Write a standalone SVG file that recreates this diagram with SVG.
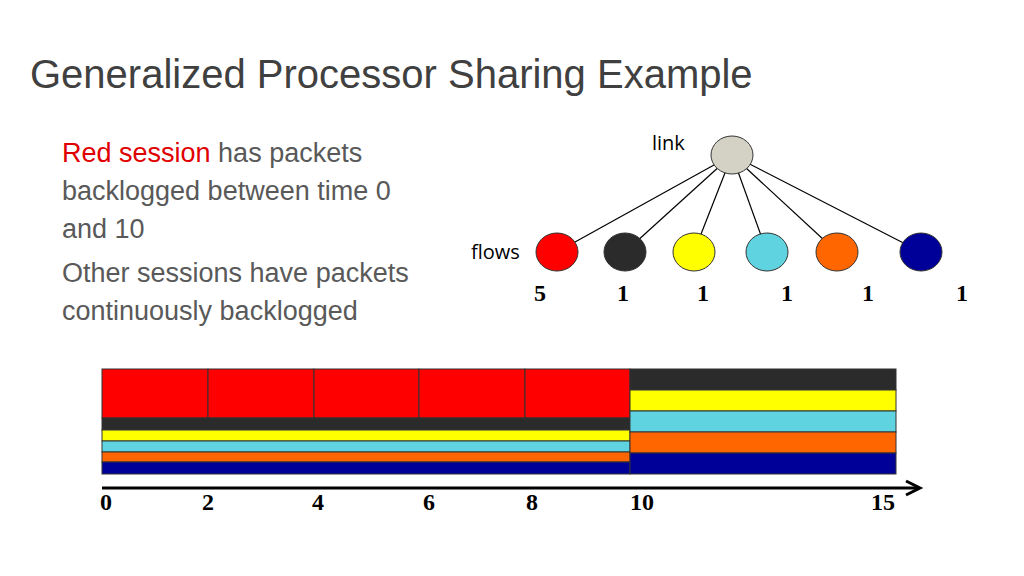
<svg xmlns="http://www.w3.org/2000/svg" width="1024" height="576" viewBox="0 0 1024 576">
<style>
.t{font-family:"Liberation Sans",Arial,sans-serif;fill:#595959;font-size:27px}
.n{font-family:"Liberation Serif","Times New Roman",serif;font-weight:bold;font-size:24px;fill:#000}
.c{font-family:"Open Sans","Noto Sans",sans-serif;font-size:20px;fill:#000}
.b{stroke:#333;stroke-width:1}
line.e{stroke:#000;stroke-width:1.2}
</style>
<rect width="1024" height="576" fill="#fff"/>
<text x="30" y="88" style="font-family:'Liberation Sans',Arial,sans-serif;font-size:40px;fill:#404040">Generalized Processor Sharing Example</text>
<text class="t" x="62" y="162"><tspan fill="#e00000">Red session</tspan> has packets</text>
<text class="t" x="62" y="200">backlogged between time 0</text>
<text class="t" x="62" y="238">and 10</text>
<text class="t" x="62" y="282">Other sessions have packets</text>
<text class="t" x="62" y="320">continuously backlogged</text>
<g id="connectors">
<line class="e" x1="732" y1="155" x2="557" y2="252"/>
<line class="e" x1="732" y1="155" x2="625" y2="252"/>
<line class="e" x1="732" y1="155" x2="694" y2="252"/>
<line class="e" x1="732" y1="155" x2="767" y2="252"/>
<line class="e" x1="732" y1="155" x2="837" y2="252"/>
<line class="e" x1="732" y1="155" x2="921" y2="252"/>
</g>
<g id="link"><ellipse cx="732" cy="155" rx="21" ry="19" fill="#d4d2c4" stroke="#333"/><text class="c" x="652" y="150">link</text></g>
<g id="f1"><ellipse cx="557" cy="252" rx="21" ry="19" fill="#f00" stroke="#333"/></g>
<g id="f2"><ellipse cx="625" cy="252" rx="21" ry="19" fill="#2b2b2b" stroke="#333"/></g>
<g id="f3"><ellipse cx="694" cy="252" rx="21" ry="19" fill="#ff0" stroke="#333"/></g>
<g id="f4"><ellipse cx="767" cy="252" rx="21" ry="19" fill="#5fd3e0" stroke="#333"/></g>
<g id="f5"><ellipse cx="837" cy="252" rx="21" ry="19" fill="#ff6600" stroke="#333"/></g>
<g id="f6"><ellipse cx="921" cy="252" rx="21" ry="19" fill="#000099" stroke="#333"/></g>
<text class="c" x="471" y="259">flows</text>
<text class="n" x="534" y="301">5</text>
<text class="n" x="617" y="301">1</text>
<text class="n" x="697" y="301">1</text>
<text class="n" x="781" y="301">1</text>
<text class="n" x="862" y="301">1</text>
<text class="n" x="956" y="301">1</text>
<g id="chart">
<rect class="b" x="102" y="369" width="106" height="49" fill="#f00"/>
<rect class="b" x="208" y="369" width="106" height="49" fill="#f00"/>
<rect class="b" x="314" y="369" width="105" height="49" fill="#f00"/>
<rect class="b" x="419" y="369" width="106" height="49" fill="#f00"/>
<rect class="b" x="525" y="369" width="105" height="49" fill="#f00"/>
<rect class="b" x="102" y="418" width="528" height="12" fill="#2b2b2b"/>
<rect class="b" x="102" y="430" width="528" height="11" fill="#ff0"/>
<rect class="b" x="102" y="441" width="528" height="11" fill="#5fd3e0"/>
<rect class="b" x="102" y="452" width="528" height="10" fill="#ff6600"/>
<rect class="b" x="102" y="462" width="528" height="12" fill="#000099"/>
<rect class="b" x="630" y="369" width="266" height="21" fill="#2b2b2b"/>
<rect class="b" x="630" y="390" width="266" height="21" fill="#ff0"/>
<rect class="b" x="630" y="411" width="266" height="21" fill="#5fd3e0"/>
<rect class="b" x="630" y="432" width="266" height="21" fill="#ff6600"/>
<rect class="b" x="630" y="453" width="266" height="21" fill="#000099"/>
</g>
<g id="axis">
<line x1="102" y1="488" x2="918" y2="488" stroke="#000" stroke-width="3"/>
<path d="M906 481 L920 488 L906 495" fill="none" stroke="#000" stroke-width="3"/>
</g>
<text class="n" x="100" y="510">0</text>
<text class="n" x="202" y="510">2</text>
<text class="n" x="312" y="510">4</text>
<text class="n" x="423" y="510">6</text>
<text class="n" x="526" y="510">8</text>
<text class="n" x="630" y="510">10</text>
<text class="n" x="871" y="510">15</text>
</svg>
